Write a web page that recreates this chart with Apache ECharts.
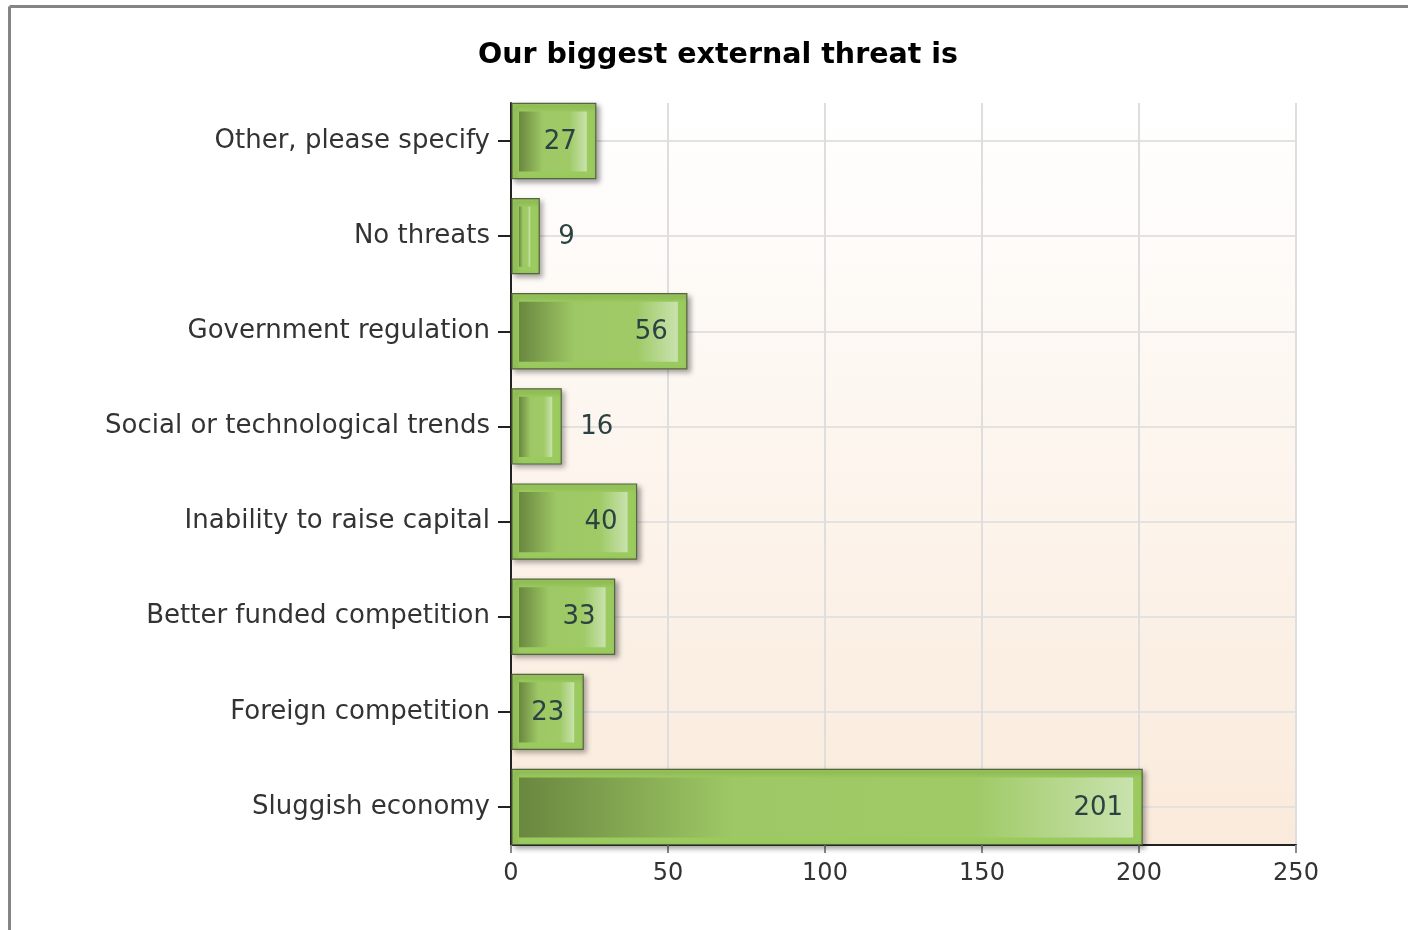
<!DOCTYPE html>
<html>
<head>
<meta charset="utf-8">
<style>
  html, body { margin: 0; padding: 0; background: #fff; overflow: hidden; }
  #chart { width: 1408px; height: 930px; }
</style>
<script src="https://cdn.jsdelivr.net/npm/echarts@6/dist/echarts.min.js"></script>
</head>
<body>
<div id="chart"></div>
<script>
// Data (bottom to top, as the category axis draws them)
const categories = [
  'Sluggish economy',
  'Foreign competition',
  'Better funded competition',
  'Inability to raise capital',
  'Social or technological trends',
  'Government regulation',
  'No threats',
  'Other, please specify'
];
const responses = [201, 23, 33, 40, 16, 56, 9, 27];
const xTickMin = 0;
const xTickMax = 250;
const xTickStep = 50;
const titleText = 'Our biggest external threat is';

const FONT = 'DejaVu Sans';

const chart = echarts.init(document.getElementById('chart'), null, { renderer: 'canvas' });

const innerGradient = {
  type: 'linear', x: 0, y: 0, x2: 1, y2: 0,
  colorStops: [
    { offset: 0, color: '#6a873f' },
    { offset: 0.35, color: '#9ec865' },
    { offset: 0.74, color: '#9fca66' },
    { offset: 1, color: '#c9e2ae' }
  ]
};

function renderBar(params, api) {
  const val = api.value(0);
  const cat = api.value(1);
  const p0 = api.coord([0, cat]);
  const p1 = api.coord([val, cat]);
  const band = api.size([0, 1])[1];
  const h = band * 0.79;
  const x0 = p0[0] + 1;
  const x1 = p1[0];
  const yc = p0[1];
  const top = yc - h / 2;
  const w = x1 - x0;
  const inside = w > 60;
  return {
    type: 'group',
    children: [
      {
        type: 'rect',
        shape: { x: x0, y: top, width: w, height: h },
        style: {
          fill: '#9bcb5e',
          stroke: '#56643f',
          lineWidth: 1.2,
          shadowBlur: 5,
          shadowOffsetX: 3,
          shadowOffsetY: 3,
          shadowColor: 'rgba(0,0,0,0.35)'
        }
      },
      {
        type: 'rect',
        shape: { x: x0 + 7, y: top + 8, width: Math.max(w - 16, 1), height: h - 15 },
        style: { fill: innerGradient }
      },
      {
        type: 'text',
        style: {
          text: String(val),
          x: inside ? x1 - 19 : x1 + 19,
          y: yc + 1,
          align: inside ? 'right' : 'left',
          verticalAlign: 'middle',
          fontFamily: FONT,
          fontSize: 26,
          fill: '#2c4242'
        }
      }
    ]
  };
}

const option = {
  backgroundColor: '#ffffff',
  animation: false,
  title: {
    text: titleText,
    left: 713,
    textAlign: 'center',
    top: 36,
    textStyle: { fontFamily: FONT, fontWeight: 'bold', fontSize: 28.5, color: '#000' }
  },
  graphic: [
    { type: 'line', shape: { x1: 9.5, y1: 6.5, x2: 1408, y2: 6.5 }, style: { stroke: '#858585', lineWidth: 3 } },
    { type: 'line', shape: { x1: 9.5, y1: 6.5, x2: 9.5, y2: 930 }, style: { stroke: '#858585', lineWidth: 3 } }
  ],
  grid: [
    { left: 511, right: 112, top: 141, bottom: 123, containLabel: false },
    {
      left: 511, right: 112, top: 103, bottom: 85, containLabel: false,
      show: true, borderWidth: 0,
      backgroundColor: {
        type: 'linear', x: 0, y: 0, x2: 0, y2: 1,
        colorStops: [
          { offset: 0, color: '#ffffff' },
          { offset: 1, color: '#faeadb' }
        ]
      }
    }
  ],
  xAxis: [
    { gridIndex: 0, type: 'value', min: xTickMin, max: xTickMax, show: false },
    {
      gridIndex: 1, type: 'value', min: xTickMin, max: xTickMax, interval: xTickStep,
      axisLine: { show: true, lineStyle: { color: '#222', width: 2 } },
      axisTick: { show: true, length: 8, lineStyle: { color: '#8a8a8a', width: 2 } },
      axisLabel: { margin: 17, fontFamily: FONT, fontSize: 24, color: '#333' },
      splitLine: { show: true, lineStyle: { color: '#dedede', width: 2 } }
    }
  ],
  yAxis: [
    {
      gridIndex: 0, type: 'category', data: categories, boundaryGap: false,
      axisLine: { show: false },
      axisTick: { show: true, length: 13, lineStyle: { color: '#222', width: 2 } },
      axisLabel: { margin: 21, fontFamily: FONT, fontSize: 26, color: '#333', padding: [3, 0, 0, 0] },
      splitLine: { show: true, lineStyle: { color: '#e2e2e2', width: 2 } }
    },
    {
      gridIndex: 1, type: 'value', min: 0, max: 1,
      axisLine: { show: true, lineStyle: { color: '#222', width: 2 } },
      axisTick: { show: false },
      axisLabel: { show: false },
      splitLine: { show: false }
    }
  ],
  series: [
    {
      type: 'custom',
      xAxisIndex: 0,
      yAxisIndex: 0,
      renderItem: renderBar,
      encode: { x: 0, y: 1 },
      data: responses.map((v, i) => [v, i]),
      z: 5
    }
  ]
};

chart.setOption(option);
</script>
</body>
</html>
